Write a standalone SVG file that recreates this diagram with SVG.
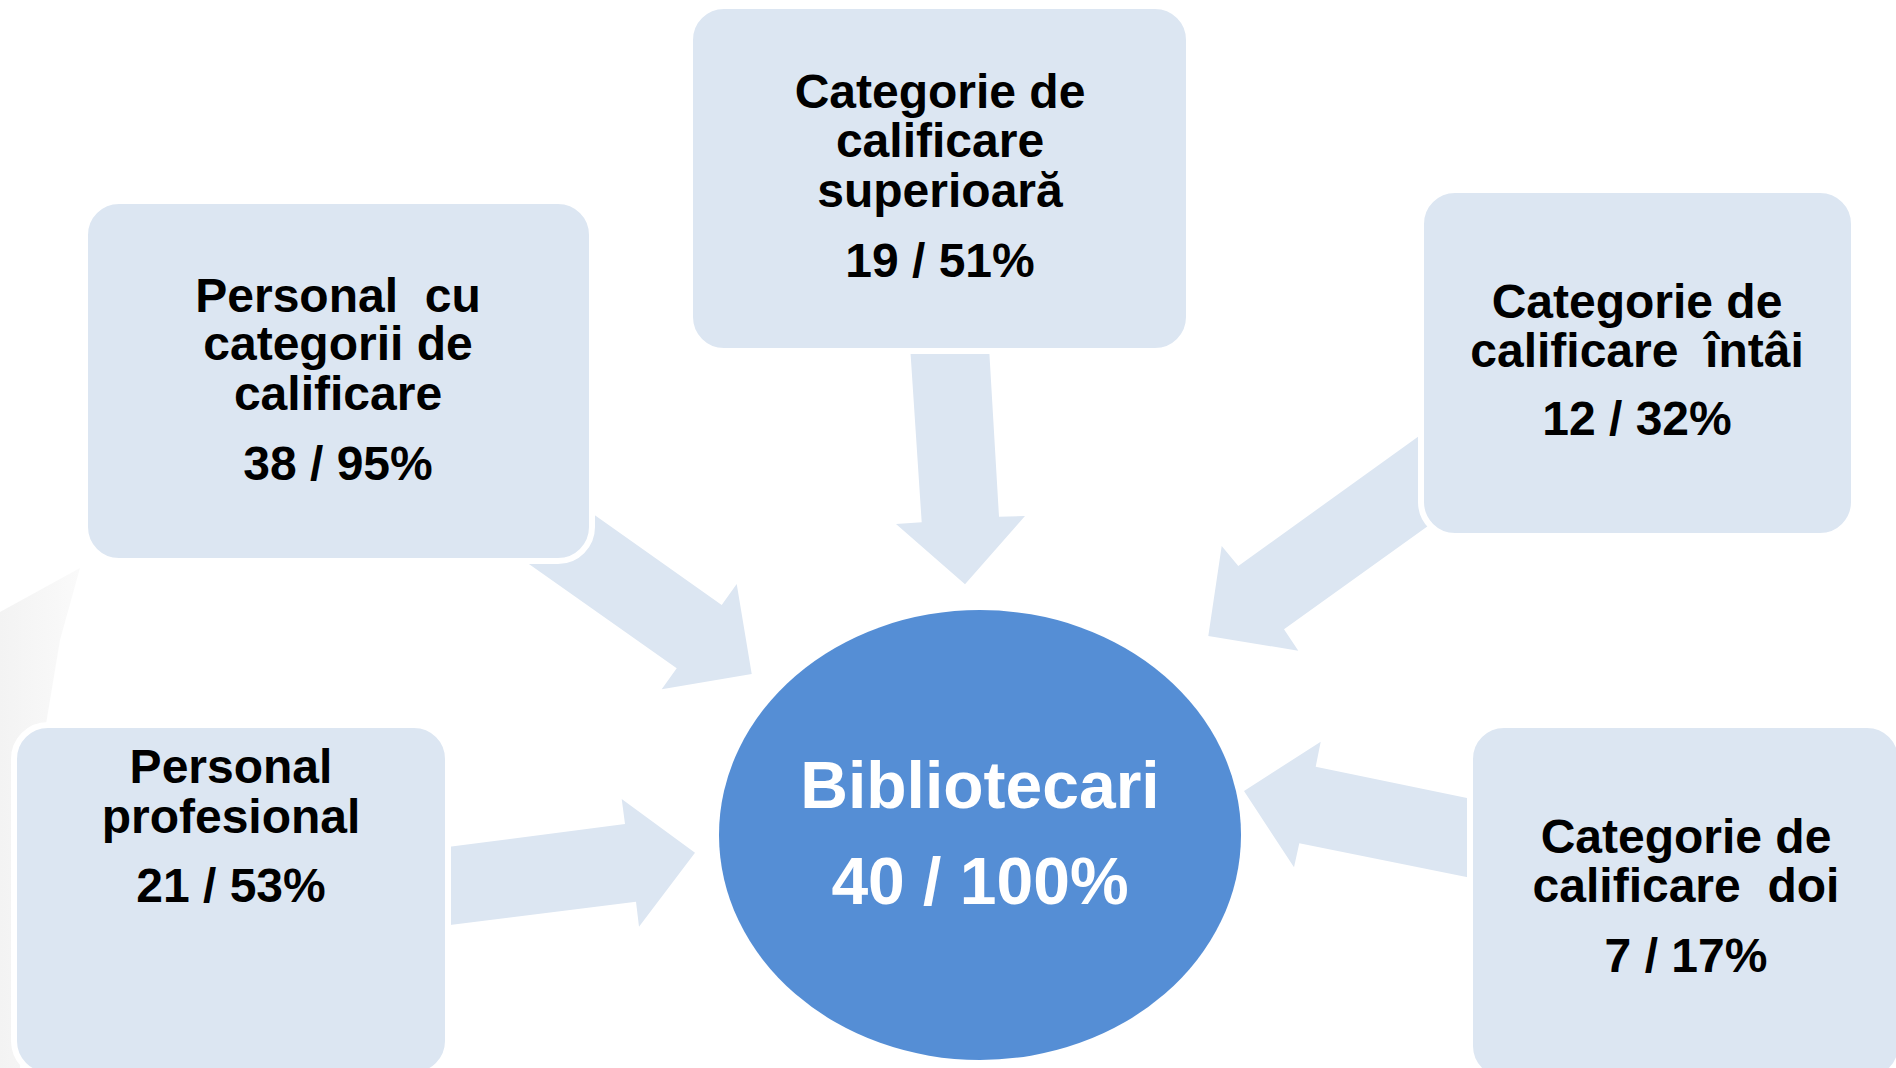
<svg xmlns="http://www.w3.org/2000/svg" width="1896" height="1068" viewBox="0 0 1896 1068">
<defs>
<style>
.box{fill:#dce6f2;stroke:#ffffff;stroke-width:6}
.arr{fill:#dce6f2}
.t{font-family:"Liberation Sans",Arial,sans-serif;font-weight:bold;font-size:48px;fill:#000000;text-anchor:middle}
.c{font-family:"Liberation Sans",Arial,sans-serif;font-weight:bold;font-size:66px;fill:#ffffff;text-anchor:middle}
</style>
<linearGradient id="sw" x1="0" y1="0" x2="1" y2="0">
<stop offset="0" stop-color="#f3f3f3"/>
<stop offset="1" stop-color="#fafafa"/>
</linearGradient>
</defs>
<rect width="1896" height="1068" fill="#ffffff"/>
<path d="M0,612 L80,568 L60,640 L40,760 L20,1068 L0,1068 Z" fill="url(#sw)"/>
<g id="connectors">
<polygon class="arr" points="555,487 721.7,605 736.7,584 751.7,674 661.7,689.3 676.7,668.3 495,540"/>
<polygon class="arr" points="909,330 988,330 999,516.7 1025,516 965,584.3 896,524 921.7,522.3"/>
<polygon class="arr" points="1458,408 1238.3,566 1221.7,546 1208.3,636 1298.3,650.7 1284,629.3 1467,498"/>
<polygon class="arr" points="430,849.3 625,824 621.7,799 695,852.7 639,926.7 636,901.7 430,927.5"/>
<polygon class="arr" points="1490,802.8 1315.7,766.7 1320.7,741.7 1244,791 1294,867.3 1299.3,843.3 1490,881.7"/>
</g>
<g id="node-personal-cu-categorii">
<rect class="box" x="85" y="201" width="507" height="360" rx="34"/>
<text class="t" x="338" y="312" xml:space="preserve">Personal  cu</text>
<text class="t" x="338" y="360">categorii de</text>
<text class="t" x="338" y="410">calificare</text>
<text class="t" x="338" y="480">38 / 95%</text>
</g>
<g id="node-superioara">
<rect class="box" x="690" y="6" width="499" height="345" rx="34"/>
<text class="t" x="940" y="108">Categorie de</text>
<text class="t" x="940" y="157">calificare</text>
<text class="t" x="940" y="207">superioară</text>
<text class="t" x="940" y="277">19 / 51%</text>
</g>
<g id="node-intai">
<rect class="box" x="1421" y="190" width="433" height="346" rx="34"/>
<text class="t" x="1637" y="318">Categorie de</text>
<text class="t" x="1637" y="367" xml:space="preserve">calificare  întâi</text>
<text class="t" x="1637" y="435">12 / 32%</text>
</g>
<g id="node-profesional">
<rect class="box" x="14" y="725" width="434" height="350" rx="34"/>
<text class="t" x="231" y="783">Personal</text>
<text class="t" x="231" y="833">profesional</text>
<text class="t" x="231" y="902">21 / 53%</text>
</g>
<g id="node-doi">
<rect class="box" x="1470" y="725" width="431" height="355" rx="34"/>
<text class="t" x="1686" y="853">Categorie de</text>
<text class="t" x="1686" y="902" xml:space="preserve">calificare  doi</text>
<text class="t" x="1686" y="972">7 / 17%</text>
</g>
<g id="node-bibliotecari">
<ellipse cx="980" cy="835" rx="261" ry="225" fill="#558ed5"/>
<text class="c" x="980" y="808">Bibliotecari</text>
<text class="c" x="980" y="904">40 / 100%</text>
</g>
</svg>
